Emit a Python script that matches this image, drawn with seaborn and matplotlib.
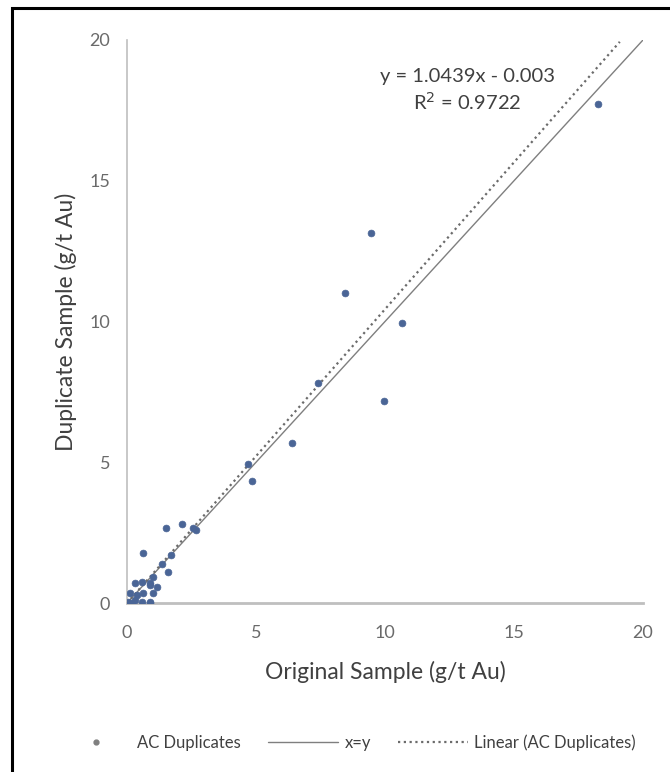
import matplotlib
matplotlib.use("Agg")
import matplotlib.pyplot as plt
import seaborn as sns
import pandas as pd
import numpy as np
from matplotlib.lines import Line2D
from matplotlib.patches import Rectangle

# ---- data ----
original = [18.26, 9.46, 8.45, 10.66, 7.40, 9.96, 6.40, 4.69, 4.84,
            1.51, 2.13, 2.56, 2.67, 0.62, 1.71, 1.36, 1.59, 1.00, 0.89,
            0.58, 0.31, 0.89, 1.16, 0.12, 0.39, 0.62, 1.00, 0.04, 0.31,
            0.58, 0.89, 0.20, 0.90]
duplicate = [17.73, 13.14, 11.00, 9.93, 7.81, 7.18, 5.68, 4.94, 4.33,
             2.66, 2.81, 2.66, 2.59, 1.78, 1.71, 1.39, 1.10, 0.92, 0.71,
             0.75, 0.71, 0.64, 0.57, 0.36, 0.28, 0.36, 0.36, 0.04, 0.10,
             0.04, 0.02, 0.00, 0.00]
xy_range = [0, 20]
trend_range = [0, 19.1]
slope = 1.0439
intercept = -0.003
r2 = 0.9722
x_ticks = [0, 5, 10, 15, 20]
y_ticks = [0, 5, 10, 15, 20]

df = pd.DataFrame({"Original": original, "Duplicate": duplicate})

sns.set_theme(style="white")
plt.rcParams["font.family"] = ["Lato", "DejaVu Sans"]

fig = plt.figure(figsize=(6.7, 7.72), dpi=100)
ax = fig.add_axes([0.1896, 0.2189, 0.7701, 0.7293])

tick_col = "#6a6a6a"
pt_col = "#4A6596"

# x=y line
ax.plot(xy_range, xy_range, color="#7f7f7f", lw=1.0, zorder=2)
# trendline
tx = np.array(trend_range)
ax.plot(tx, slope * tx + intercept, color="#6b6b6b", lw=1.6,
        linestyle=(0, (1, 1.6)), zorder=2)

sns.scatterplot(data=df, x="Original", y="Duplicate", ax=ax, color=pt_col,
                s=24, edgecolor=pt_col, linewidth=0.5, zorder=3, legend=False)

ax.set_xlim(0, 20)
ax.set_ylim(0, 20)
ax.set_xticks(x_ticks)
ax.set_yticks(y_ticks)
ax.tick_params(axis="x", labelsize=13, colors=tick_col, length=0, pad=16)
ax.tick_params(axis="y", labelsize=13, colors=tick_col, length=0, pad=12)
ax.set_xlabel("Original Sample (g/t Au)", fontsize=16.5, color="#404040", labelpad=14)
ax.set_ylabel("Duplicate Sample (g/t Au)", fontsize=16.5, color="#404040", labelpad=9)

for s in ["top", "right"]:
    ax.spines[s].set_visible(False)
ax.spines["left"].set_color("#bfbfbf")
ax.spines["left"].set_linewidth(1.2)
ax.spines["bottom"].set_color("#bfbfbf")
ax.spines["bottom"].set_linewidth(2.0)

ax.text(13.2, 18.2, f"y = {slope}x - {abs(intercept)}\nR$^2$ = {r2}",
        ha="center", va="center", fontsize=14.5, color="#404040", linespacing=1.3)

handles = [
    Line2D([], [], marker="o", linestyle="none", color="#7f7f7f", markersize=3.5),
    Line2D([], [], color="#7f7f7f", lw=1.0),
    Line2D([], [], color="#6b6b6b", lw=1.6, linestyle=(0, (1, 1.6))),
]
labels = ["AC Duplicates", "x=y", "Linear (AC Duplicates)"]
fig.legend(handles, labels, loc="center", bbox_to_anchor=(0.52, 0.0376), ncol=3,
           frameon=False, fontsize=12, handlelength=4.2, columnspacing=1.6,
           handletextpad=0.4, labelcolor="#404040")

fig.patches.append(Rectangle((12 / 670, -0.01), 1.0, 1 - 8 / 772 + 0.01,
                             transform=fig.transFigure, fill=False,
                             edgecolor="black", linewidth=2.2))

fig.savefig("out.png", dpi=100)
